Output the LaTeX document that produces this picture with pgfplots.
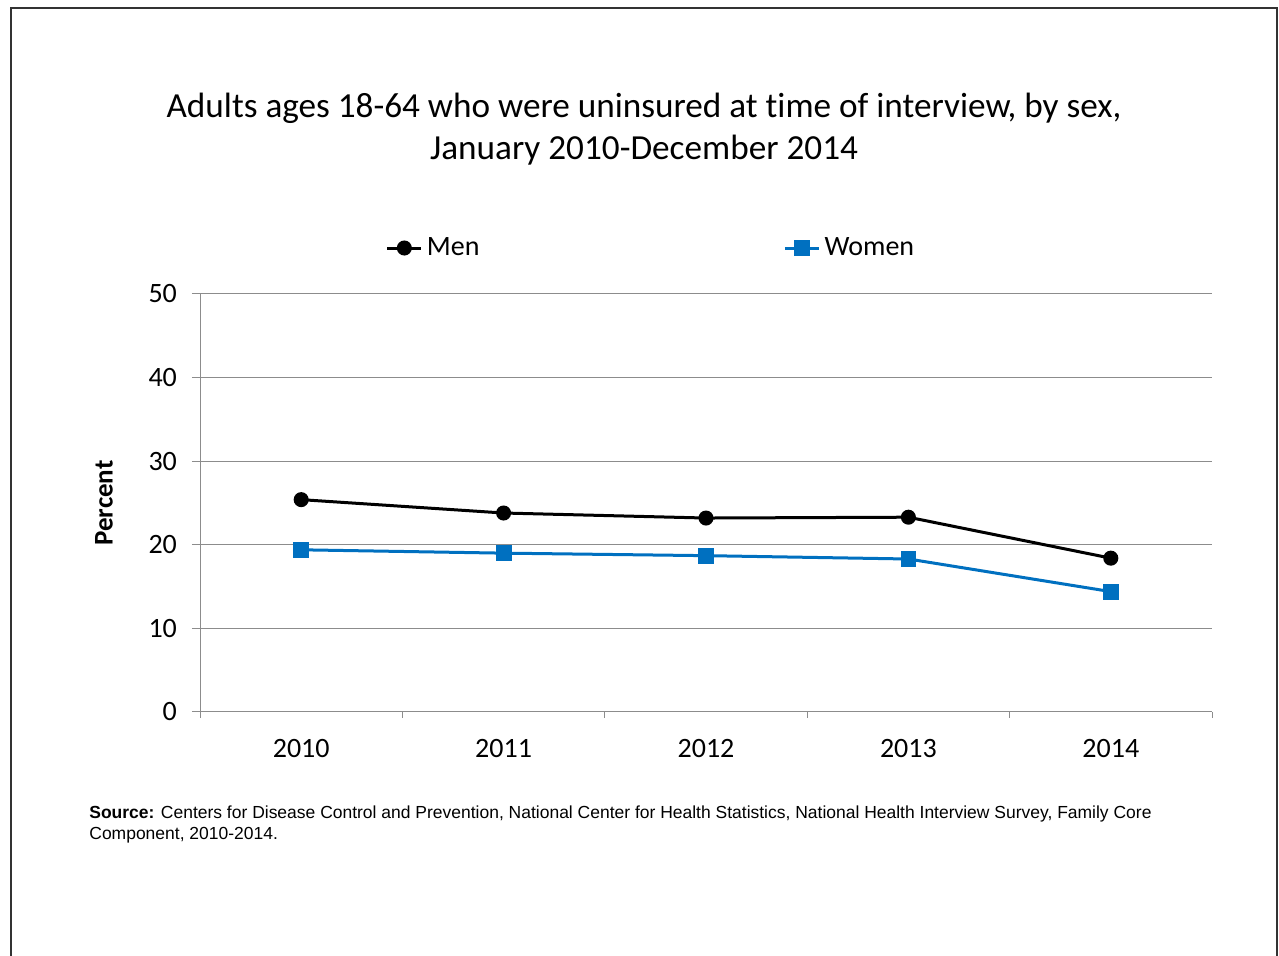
\documentclass[border=0pt]{standalone}
\usepackage{pgfplots}
\pgfplotsset{compat=1.18}
\usepackage{fontspec}
\setmainfont{Carlito}[Ligatures=NoCommon]
\newfontfamily\arialf{Liberation Sans}
\definecolor{wblue}{HTML}{0070C0}
\definecolor{gridg}{HTML}{8C8C8C}
\begin{document}
\begin{tikzpicture}
\path[use as bounding box] (0,0) rectangle (639.5pt,478pt);
\draw[line width=1pt, black!80] (5.5pt,0) -- (5.5pt,474pt) -- (638.5pt,474pt) -- (638.5pt,0);
\node[align=center, font=\fontsize{17.6}{21}\selectfont] at (322pt,413.5pt)
  {Adults ages 18-64 who were uninsured at time of interview, by sex,\\January 2010-December 2014};
\node[anchor=north west, align=left, font=\arialf\fontsize{8.74}{10.5}\selectfont, inner sep=0pt] at (44.5pt,75.5pt)
  {\textbf{Source:} Centers for Disease Control and Prevention, National Center for Health Statistics, National Health Interview Survey, Family Core\\Component, 2010-2014.};
\begin{axis}[
  at={(100pt,122pt)}, anchor=south west,
  scale only axis, width=506pt, height=209pt,
  xmin=-0.5, xmax=4.5, ymin=0, ymax=50,
  xtick={0,1,2,3,4}, xticklabels={2010,2011,2012,2013,2014},
  minor xtick={-0.5,0.5,1.5,2.5,3.5,4.5},
  ytick={0,10,20,30,40,50},
  /pgf/number format/assume math mode=true,
  axis x line*=bottom, axis y line*=left,
  axis line style={gridg, line width=0.5pt, -},
  ymajorgrids, grid style={gridg, line width=0.5pt},
  tick align=outside,
  x tick style={draw=none},
  minor x tick style={draw=gridg, line width=0.5pt},
  minor tick length=3pt,
  y tick style={draw=gridg, line width=0.5pt},
  major tick length=4pt,
  tick label style={font=\fontsize{14}{16}\selectfont},
  xticklabel style={yshift=-6pt},
  yticklabel style={xshift=-4pt},
  ylabel={\textbf{Percent}},
  ylabel style={at={(axis description cs:-0.095,0.5)}, anchor=center, font=\fontsize{13.5}{15}\selectfont},
  legend columns=2,
  legend style={draw=none, fill=none, at={(0.4466,1.110)}, anchor=center,
    font=\fontsize{14}{16}\selectfont,
    /tikz/every even column/.append style={column sep=150pt},
    legend cell align=left, inner sep=0pt},
]
\addplot[black, line width=1.5pt, mark=*, mark size=3pt] coordinates {
  (0,25.4) (1,23.8) (2,23.2) (3,23.3) (4,18.4)};
\addlegendentry{Men}
\addplot[wblue, line width=1.5pt, mark=square*, mark size=3.2pt] coordinates {
  (0,19.4) (1,19.0) (2,18.7) (3,18.3) (4,14.4)};
\addlegendentry{Women}
\end{axis}
\end{tikzpicture}
\end{document}
